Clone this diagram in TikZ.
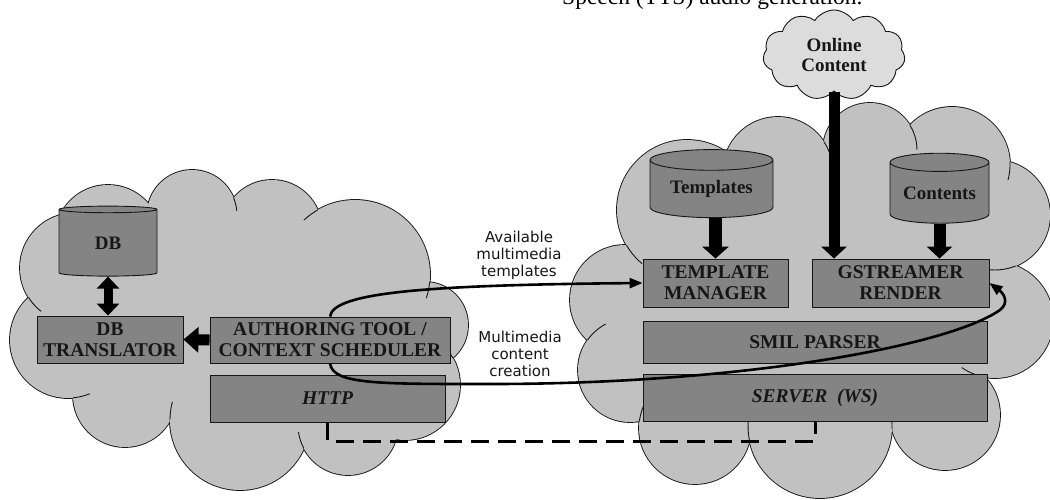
\documentclass[tikz,border=0pt]{standalone}
\usepackage{fontspec}
\setmainfont{Liberation Serif}
\newfontfamily\labelfont{DejaVu Sans}
\usetikzlibrary{arrows.meta,shapes.geometric,shapes.symbols}
\definecolor{cloudgray}{RGB}{193,193,193}
\definecolor{boxgray}{RGB}{132,132,132}
\definecolor{lightcloud}{RGB}{220,220,220}
\definecolor{ink}{RGB}{22,22,22}
\newcommand\cloudlobes[2]{%
  \foreach \x/\y/\r in {#1} {\draw[draw=ink,line width=1.8pt] (\x,\y) circle[radius=\r];}%
  \foreach \x/\y/\r in {#1} {\fill[#2] (\x,\y) circle[radius=\r];}%
}
\newcommand\cstub[8]{\begin{scope}\clip (#6,#7) circle[radius=#8];\draw[draw=ink,line width=0.9pt] ([shift={(#4:#3)}]#1,#2) arc[start angle=#4,end angle=#5,radius=#3];\end{scope}}
\begin{document}
\begin{tikzpicture}[x=1pt,y=-1pt,
  box/.style={draw=ink, line width=0.9pt, fill=boxgray, align=center, inner sep=0pt,
    font=\fontsize{19.5}{21}\selectfont\bfseries, text=ink},
  itbox/.style={box, font=\fontsize{19.5}{21}\selectfont\bfseries\itshape},
  dbcyl/.style={cylinder, shape border rotate=90, draw=ink, line width=0.9pt, fill=boxgray,
    aspect=0.25, font=\fontsize{19}{21}\selectfont\bfseries, text=ink, inner sep=0pt},
  flow/.style={line width=2.6pt, draw=black, -{Triangle[length=13pt,width=10pt]}},
  lbl/.style={font=\labelfont\fontsize{15}{17}\selectfont, text=ink, align=center},
  dashlink/.style={line width=3pt, draw=black, dash pattern=on 18pt off 9pt},
]
\useasboundingbox (0,0) rectangle (1050,500);
\clip (0,0) rectangle (1050,500);

% left cloud
\cloudlobes{75/268/55, 108/238/53, 192/215/45, 272/230/50, 355/275/75, 425/325/43, 405/385/55, 348/425/50, 240/420/70, 125/395/52, 68/340/58}{cloudgray}
\fill[cloudgray] (75,268) -- (108,238) -- (192,215) -- (272,230) -- (355,275) -- (425,325) -- (405,385) -- (348,425) -- (240,420) -- (125,395) -- (68,340) -- cycle;
\cstub{192}{215}{45}{-30}{-5}{272}{230}{50}
\cstub{355}{275}{75}{-110}{-133}{272}{230}{50}
\cstub{355}{275}{75}{0}{18}{425}{325}{43}
\cstub{405}{385}{55}{-20}{-48}{425}{325}{43}
\cstub{348}{425}{50}{140}{172}{240}{420}{70}
\cstub{240}{420}{70}{170}{195}{125}{395}{52}
\cstub{75}{268}{55}{160}{128}{68}{340}{58}
\cstub{68}{340}{58}{95}{68}{125}{395}{52}

% right cloud
\cloudlobes{625/300/55, 687/210/70, 778/172/55, 870/150/47, 952/165/58, 995/215/55, 995/320/58, 945/415/55, 820/426/72, 695/428/56, 630/370/52}{cloudgray}
\fill[cloudgray] (625,300) -- (687,210) -- (778,172) -- (870,150) -- (952,165) -- (995,215) -- (995,320) -- (945,415) -- (820,426) -- (695,428) -- (630,370) -- cycle;
\cstub{687}{210}{70}{160}{130}{625}{300}{55}
\cstub{778}{172}{55}{215}{170}{687}{210}{70}
\cstub{778}{172}{55}{-60}{-20}{870}{150}{47}
\cstub{870}{150}{47}{-40}{0}{952}{165}{58}
\cstub{952}{165}{58}{-20}{15}{995}{215}{55}
\cstub{995}{215}{55}{55}{95}{995}{320}{58}
\cstub{995}{320}{58}{95}{125}{945}{415}{55}
\cstub{820}{426}{72}{20}{-15}{945}{415}{55}
\cstub{820}{426}{72}{160}{195}{695}{428}{56}
\cstub{695}{428}{56}{180}{215}{630}{370}{52}
\cstub{630}{370}{52}{-150}{-118}{625}{300}{55}

% online content cloud
\node[cloud, cloud puffs=11, cloud puff arc=115, aspect=1.6, draw=ink, line width=0.9pt,
  fill=lightcloud, minimum width=142pt, minimum height=90pt, align=center, inner sep=0pt,
  font=\fontsize{19}{20.5}\selectfont\bfseries, text=ink] (online) at (834,55) {Online\\Content};

% cylinders
\node[dbcyl, minimum width=98pt, minimum height=70pt] (db) at (108,243) {DB};
\node[dbcyl, minimum width=123pt, minimum height=68pt] (tpl) at (711.5,189) {Templates};
\node[dbcyl, minimum width=99pt, minimum height=70pt] (cnt) at (939.5,193) {Contents};

% boxes
\node[box, minimum width=146pt, minimum height=47pt] (dbt) at (110,339.5) {DB\\TRANSLATOR};
\node[box, minimum width=240pt, minimum height=46pt] (auth) at (330,340) {AUTHORING TOOL /\\CONTEXT SCHEDULER};
\node[itbox, minimum width=235pt, minimum height=47pt] (http) at (327.5,398.5) {HTTP};
\node[box, minimum width=145pt, minimum height=48pt] (tm) at (715.5,283) {TEMPLATE\\MANAGER};
\node[box, minimum width=177pt, minimum height=48pt] (gst) at (900.5,283) {GSTREAMER\\RENDER};
\node[box, minimum width=344pt, minimum height=42pt] (smil) at (815,342) {SMIL PARSER};
\node[itbox, minimum width=344pt, minimum height=47pt] (server) at (815,397.5) {SERVER\ \ (WS)};

% fat arrows
\draw[line width=9pt, {Triangle[width=22pt,length=12pt]}-{Triangle[width=22pt,length=12pt]}] (db.south) -- (db.south |- dbt.north);
\draw[line width=11pt, -{Triangle[width=25pt,length=15pt]}] (auth.west) -- (dbt.east);
\draw[line width=13pt, -{Triangle[width=26pt,length=12pt]}] (tpl.south -| tm.north) -- (tm.north);
\draw[line width=12pt, -{Triangle[width=25pt,length=12pt]}] (cnt.south) -- (cnt.south |- gst.north);
\draw[line width=11pt, -{Triangle[width=25pt,length=12pt]}] (online.south) -- (online.south |- gst.north);

% flows
\draw[flow] (auth.north) .. controls (333,292) and (430,285) .. (tm.west);
\draw[flow] (auth.south) .. controls (333,385) and (380,384) .. (500,384)
  .. controls (750,383) and (950,345) .. (1000,310)
  .. controls (1010,302) and (1003,293) .. (gst.east);
\node[lbl] (lab1) at (519,255) {Available\\multimedia\\templates};
\node[lbl] (lab2) at (520,354) {Multimedia\\content\\creation};

% dashed link
\coordinate (dashy) at (0,441);
\draw[dashlink] (http.south) -- (http.south |- dashy) -| (server.south);

% cut caption (cropped at the top edge, as in the reference)
\node[anchor=base west, inner sep=0pt, font=\fontsize{23.5}{26}\selectfont, text=black] (cap) at (562,5) {Speech (TTS) audio generation.};
\end{tikzpicture}
\end{document}
